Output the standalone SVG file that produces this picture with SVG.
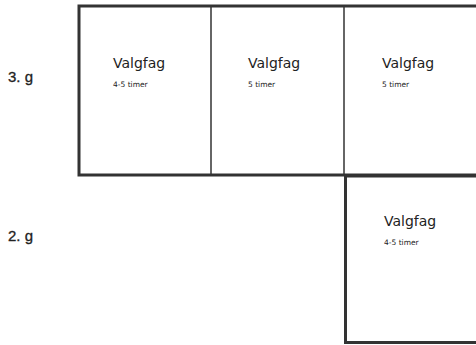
<svg xmlns="http://www.w3.org/2000/svg" width="476" height="345" viewBox="0 0 476 345">
<style>
.frame{fill:#fff;stroke:#333;stroke-width:3}
.div{stroke:#333;stroke-width:1.5}
.lbl{font-family:"Liberation Sans",Arial,sans-serif;font-size:15px;fill:#222;stroke:#222;stroke-width:0.3}
.t{font-family:"DejaVu Sans","Liberation Sans",sans-serif;font-size:14px;fill:#222}
.s{font-family:"DejaVu Sans","Liberation Sans",sans-serif;font-size:7.5px;fill:#222}
</style>
<rect width="476" height="345" fill="#fff"/>
<text class="lbl" x="8" y="82">3. g</text>
<text class="lbl" x="8" y="241">2. g</text>
<g id="row3">
<rect class="frame" x="79" y="6" width="410" height="169"/>
</g>
<g id="row2">
<rect class="frame" x="345.5" y="176" width="150" height="166.5"/>
</g>
<g id="connectors">
<line class="div" x1="211" y1="7" x2="211" y2="174"/>
<line class="div" x1="344" y1="7" x2="344" y2="174"/>
</g>
<g id="n1">
<text class="t" x="113" y="68">Valgfag</text>
<text class="s" x="113" y="87">4-5 timer</text>
</g>
<g id="n2">
<text class="t" x="248" y="68">Valgfag</text>
<text class="s" x="248" y="87">5 timer</text>
</g>
<g id="n3">
<text class="t" x="382" y="68">Valgfag</text>
<text class="s" x="382" y="87">5 timer</text>
</g>
<g id="n4">
<text class="t" x="384" y="226">Valgfag</text>
<text class="s" x="384" y="245">4-5 timer</text>
</g>
</svg>
